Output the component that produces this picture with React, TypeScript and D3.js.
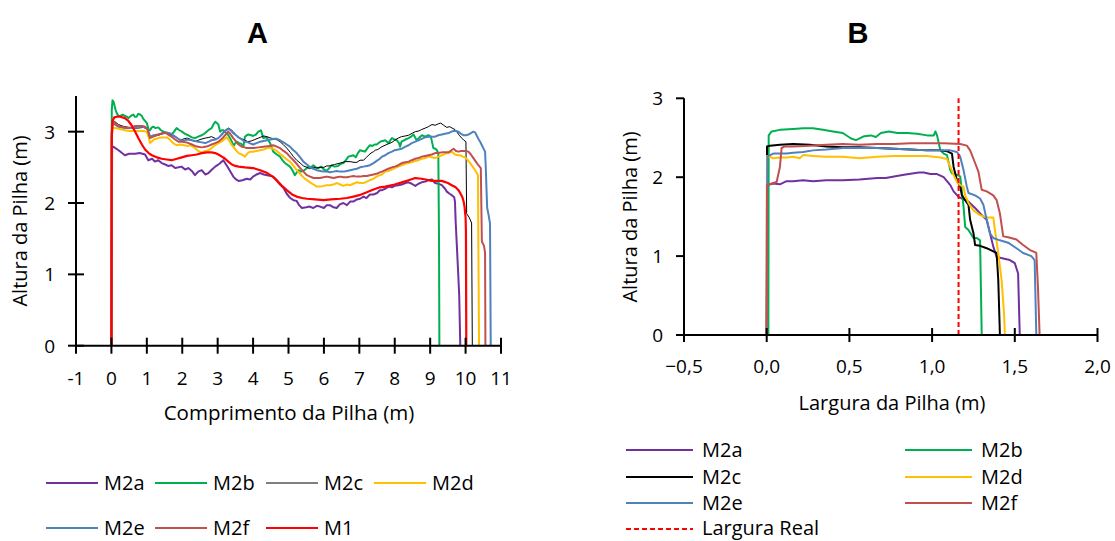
import React from "react";
import * as d3 from "d3";

type Pt = [number, number];

// ---------------- Panel A data (Comprimento da Pilha) ----------------
const seriesA = ["M2a", "M2b", "M2c", "M2d", "M2e", "M2f", "M1"];

const m2aA: Pt[] = [[0,0],[0.02,2.79],[0.05,2.79],[0.2,2.74],[0.3,2.70],[0.38,2.67],[0.5,2.69],[0.67,2.69],[0.8,2.70],[0.95,2.68],[1.04,2.60],[1.15,2.62],[1.23,2.58],[1.32,2.60],[1.42,2.56],[1.52,2.54],[1.6,2.52],[1.7,2.53],[1.8,2.49],[1.9,2.50],[1.98,2.51],[2.08,2.47],[2.17,2.49],[2.27,2.45],[2.36,2.39],[2.45,2.44],[2.55,2.46],[2.65,2.40],[2.74,2.42],[2.84,2.47],[2.93,2.51],[3.05,2.55],[3.16,2.60],[3.25,2.53],[3.3,2.49],[3.44,2.37],[3.52,2.33],[3.59,2.31],[3.7,2.32],[3.82,2.34],[3.92,2.33],[4.0,2.37],[4.1,2.40],[4.2,2.42],[4.3,2.40],[4.4,2.39],[4.5,2.38],[4.57,2.37],[4.67,2.31],[4.76,2.26],[4.86,2.21],[4.95,2.13],[5.05,2.07],[5.14,2.04],[5.23,2.03],[5.3,1.97],[5.38,1.93],[5.5,1.94],[5.6,1.95],[5.7,1.93],[5.8,1.96],[5.89,1.95],[6.0,1.93],[6.08,1.97],[6.17,1.97],[6.27,1.94],[6.36,1.93],[6.45,1.98],[6.55,2.0],[6.65,1.97],[6.74,2.02],[6.83,2.02],[6.93,2.05],[7.02,2.06],[7.12,2.09],[7.2,2.07],[7.3,2.12],[7.4,2.12],[7.5,2.14],[7.58,2.18],[7.64,2.18],[7.73,2.20],[7.83,2.23],[7.92,2.22],[8.0,2.24],[8.1,2.25],[8.2,2.26],[8.3,2.28],[8.39,2.29],[8.48,2.27],[8.58,2.24],[8.67,2.27],[8.76,2.29],[8.86,2.30],[8.95,2.32],[9.05,2.33],[9.14,2.28],[9.23,2.27],[9.33,2.25],[9.42,2.20],[9.47,2.16],[9.55,2.13],[9.61,2.11],[9.68,2.08],[9.7,2.02],[9.72,1.74],[9.78,1.13],[9.82,0.71],[9.85,0]];

const m2bA: Pt[] = [[0,0],[0.01,3.3],[0.03,3.44],[0.06,3.42],[0.08,3.38],[0.12,3.30],[0.15,3.26],[0.2,3.22],[0.25,3.22],[0.32,3.24],[0.38,3.22],[0.44,3.21],[0.48,3.19],[0.55,3.22],[0.62,3.24],[0.66,3.21],[0.71,3.21],[0.76,3.25],[0.81,3.24],[0.86,3.22],[0.9,3.18],[0.95,3.15],[1.0,3.12],[1.05,3.03],[1.09,3.02],[1.14,3.06],[1.18,3.07],[1.25,3.05],[1.32,3.06],[1.4,3.02],[1.47,3.0],[1.56,2.98],[1.63,2.97],[1.7,2.96],[1.77,3.0],[1.84,3.05],[1.92,3.02],[1.99,3.0],[2.08,2.97],[2.17,2.95],[2.27,2.92],[2.36,2.91],[2.45,2.93],[2.55,2.95],[2.62,2.97],[2.69,3.0],[2.76,3.03],[2.83,3.05],[2.88,3.10],[2.93,3.14],[2.98,3.12],[3.02,3.10],[3.07,3.0],[3.12,3.02],[3.16,3.02],[3.22,2.99],[3.26,2.98],[3.3,2.95],[3.35,2.91],[3.4,2.86],[3.45,2.80],[3.5,2.84],[3.54,2.86],[3.6,2.84],[3.66,2.83],[3.73,2.80],[3.77,2.93],[3.82,2.95],[3.87,2.96],[3.95,2.95],[4.0,2.94],[4.08,2.96],[4.15,3.0],[4.22,3.02],[4.29,2.91],[4.38,2.92],[4.48,2.84],[4.57,2.72],[4.67,2.68],[4.76,2.65],[4.83,2.60],[4.9,2.56],[5.04,2.51],[5.1,2.47],[5.18,2.39],[5.28,2.46],[5.35,2.44],[5.42,2.45],[5.5,2.48],[5.56,2.51],[5.63,2.50],[5.7,2.53],[5.77,2.50],[5.84,2.49],[5.92,2.51],[6.0,2.47],[6.08,2.45],[6.15,2.49],[6.22,2.53],[6.3,2.51],[6.4,2.52],[6.48,2.55],[6.55,2.56],[6.62,2.60],[6.69,2.65],[6.76,2.66],[6.83,2.67],[6.9,2.64],[6.96,2.70],[7.02,2.74],[7.09,2.73],[7.16,2.72],[7.23,2.77],[7.3,2.81],[7.37,2.80],[7.43,2.82],[7.49,2.82],[7.59,2.86],[7.66,2.87],[7.73,2.88],[7.82,2.84],[7.92,2.91],[8.0,2.89],[8.06,2.88],[8.12,2.84],[8.15,2.79],[8.19,2.86],[8.3,2.89],[8.39,2.91],[8.46,2.93],[8.53,2.96],[8.62,2.88],[8.7,2.92],[8.77,2.95],[8.86,2.93],[8.95,2.95],[9.02,2.93],[9.05,2.86],[9.09,2.77],[9.15,2.76],[9.19,2.74],[9.23,2.70],[9.25,1.5],[9.26,0]];

const m2cA: Pt[] = [[0,0],[0.01,3.0],[0.03,3.15],[0.1,3.14],[0.2,3.10],[0.3,3.08],[0.38,3.07],[0.5,3.06],[0.62,3.05],[0.76,3.05],[0.9,3.06],[1.0,3.04],[1.09,2.93],[1.2,2.94],[1.32,2.95],[1.45,2.97],[1.6,2.98],[1.7,2.95],[1.8,2.93],[1.94,2.88],[2.05,2.90],[2.13,2.91],[2.25,2.89],[2.36,2.86],[2.5,2.89],[2.65,2.91],[2.75,2.92],[2.83,2.93],[2.95,2.90],[3.02,2.91],[3.12,2.97],[3.21,3.02],[3.3,3.05],[3.37,3.03],[3.44,3.0],[3.52,2.95],[3.59,2.92],[3.68,2.90],[3.77,2.88],[3.85,2.86],[3.95,2.87],[4.05,2.89],[4.2,2.92],[4.3,2.94],[4.39,2.93],[4.5,2.91],[4.6,2.90],[4.7,2.88],[4.76,2.86],[4.85,2.82],[4.95,2.77],[5.05,2.71],[5.14,2.65],[5.23,2.60],[5.33,2.56],[5.42,2.52],[5.52,2.50],[5.6,2.48],[5.7,2.50],[5.8,2.49],[5.89,2.50],[6.0,2.50],[6.08,2.52],[6.17,2.52],[6.3,2.54],[6.46,2.56],[6.6,2.58],[6.74,2.58],[6.85,2.57],[6.93,2.57],[7.02,2.60],[7.12,2.60],[7.2,2.64],[7.26,2.67],[7.33,2.70],[7.4,2.72],[7.45,2.74],[7.52,2.75],[7.58,2.77],[7.64,2.79],[7.73,2.81],[7.82,2.83],[7.92,2.85],[8.0,2.88],[8.1,2.91],[8.19,2.93],[8.3,2.94],[8.39,2.95],[8.5,2.98],[8.58,3.0],[8.68,3.01],[8.76,3.03],[8.86,3.05],[8.95,3.07],[9.05,3.10],[9.14,3.09],[9.23,3.11],[9.3,3.12],[9.38,3.09],[9.47,3.06],[9.55,3.07],[9.62,3.05],[9.7,3.03],[9.75,3.0],[9.82,2.95],[9.89,2.91],[9.95,2.88],[10.01,2.86],[10.03,1.85],[10.1,1.80],[10.17,1.72],[10.19,0]];

const m2dA: Pt[] = [[0,0],[0.01,2.95],[0.04,3.05],[0.1,3.05],[0.2,3.04],[0.3,3.03],[0.38,3.02],[0.5,3.01],[0.6,3.01],[0.76,3.01],[0.9,3.01],[1.0,3.0],[1.05,2.92],[1.09,2.84],[1.2,2.89],[1.32,2.91],[1.45,2.92],[1.56,2.92],[1.63,2.90],[1.7,2.86],[1.77,2.83],[1.84,2.81],[1.95,2.82],[2.05,2.81],[2.15,2.80],[2.22,2.81],[2.3,2.79],[2.36,2.77],[2.45,2.73],[2.55,2.71],[2.65,2.73],[2.74,2.74],[2.83,2.77],[2.93,2.81],[3.02,2.84],[3.11,2.86],[3.2,2.90],[3.26,2.92],[3.33,2.87],[3.4,2.81],[3.5,2.75],[3.59,2.70],[3.68,2.68],[3.77,2.65],[3.85,2.70],[3.92,2.72],[4.0,2.72],[4.1,2.73],[4.2,2.74],[4.3,2.75],[4.4,2.77],[4.48,2.77],[4.57,2.76],[4.67,2.73],[4.76,2.69],[4.86,2.65],[4.95,2.61],[5.04,2.58],[5.14,2.52],[5.23,2.46],[5.33,2.41],[5.42,2.36],[5.52,2.32],[5.61,2.29],[5.7,2.26],[5.8,2.23],[5.9,2.23],[5.99,2.24],[6.08,2.25],[6.17,2.25],[6.27,2.26],[6.36,2.28],[6.46,2.26],[6.55,2.24],[6.65,2.26],[6.74,2.25],[6.83,2.27],[6.93,2.29],[7.02,2.28],[7.12,2.28],[7.21,2.30],[7.3,2.32],[7.4,2.34],[7.49,2.37],[7.58,2.39],[7.64,2.40],[7.73,2.44],[7.82,2.45],[7.92,2.47],[8.0,2.49],[8.1,2.51],[8.2,2.53],[8.3,2.55],[8.39,2.56],[8.48,2.57],[8.58,2.59],[8.67,2.60],[8.76,2.62],[8.86,2.63],[8.95,2.65],[9.05,2.64],[9.14,2.63],[9.23,2.65],[9.33,2.67],[9.42,2.69],[9.52,2.70],[9.61,2.72],[9.7,2.68],[9.78,2.67],[9.85,2.67],[9.92,2.65],[9.99,2.64],[10.06,2.60],[10.13,2.56],[10.2,2.51],[10.27,2.46],[10.33,2.41],[10.35,2.39],[10.36,1.5],[10.38,0]];

const m2eA: Pt[] = [[0,0],[0.01,3.0],[0.04,3.12],[0.1,3.10],[0.2,3.07],[0.3,3.06],[0.38,3.05],[0.5,3.05],[0.62,3.06],[0.75,3.07],[0.86,3.07],[0.95,3.06],[1.02,3.04],[1.09,2.93],[1.2,2.95],[1.32,2.96],[1.45,2.98],[1.56,2.99],[1.68,2.97],[1.8,2.93],[1.92,2.89],[2.03,2.87],[2.15,2.89],[2.27,2.88],[2.36,2.87],[2.45,2.86],[2.55,2.85],[2.65,2.84],[2.75,2.86],[2.83,2.88],[2.93,2.89],[3.02,2.91],[3.12,2.96],[3.21,3.01],[3.3,3.04],[3.37,3.02],[3.44,2.98],[3.52,2.95],[3.59,2.92],[3.68,2.89],[3.77,2.86],[3.82,2.86],[3.9,2.84],[4.0,2.82],[4.1,2.84],[4.2,2.86],[4.3,2.87],[4.39,2.88],[4.5,2.89],[4.6,2.90],[4.67,2.90],[4.76,2.88],[4.86,2.85],[4.95,2.82],[5.04,2.79],[5.14,2.74],[5.23,2.70],[5.33,2.64],[5.42,2.58],[5.52,2.54],[5.61,2.50],[5.7,2.48],[5.8,2.46],[5.9,2.45],[5.99,2.44],[6.08,2.44],[6.17,2.43],[6.27,2.44],[6.36,2.45],[6.46,2.44],[6.55,2.44],[6.65,2.45],[6.74,2.46],[6.83,2.47],[6.93,2.48],[7.02,2.50],[7.12,2.51],[7.21,2.52],[7.3,2.53],[7.4,2.56],[7.49,2.59],[7.58,2.62],[7.64,2.65],[7.73,2.67],[7.82,2.70],[7.92,2.72],[8.0,2.74],[8.1,2.75],[8.19,2.76],[8.3,2.79],[8.39,2.81],[8.48,2.84],[8.58,2.86],[8.67,2.88],[8.76,2.90],[8.86,2.92],[8.95,2.93],[9.05,2.93],[9.14,2.93],[9.23,2.95],[9.33,2.96],[9.42,2.97],[9.52,2.98],[9.6,3.0],[9.66,3.01],[9.73,3.01],[9.8,3.0],[9.87,2.97],[9.94,2.95],[10.01,2.95],[10.08,2.96],[10.15,2.98],[10.22,3.0],[10.27,2.99],[10.31,2.95],[10.36,2.90],[10.41,2.86],[10.46,2.81],[10.5,2.77],[10.55,2.72],[10.57,2.50],[10.59,2.20],[10.61,1.93],[10.65,1.83],[10.69,1.71],[10.71,0]];

const m2fA: Pt[] = [[0,0],[0.01,3.0],[0.04,3.16],[0.1,3.12],[0.15,3.09],[0.25,3.07],[0.38,3.06],[0.48,3.05],[0.58,3.06],[0.67,3.08],[0.77,3.08],[0.86,3.08],[0.95,3.07],[1.02,3.03],[1.09,2.91],[1.18,2.93],[1.28,2.95],[1.4,2.97],[1.51,2.99],[1.6,2.96],[1.7,2.93],[1.8,2.89],[1.89,2.86],[2.0,2.86],[2.1,2.85],[2.18,2.84],[2.27,2.82],[2.36,2.80],[2.45,2.79],[2.55,2.78],[2.65,2.79],[2.74,2.80],[2.83,2.82],[2.93,2.84],[3.02,2.86],[3.12,2.90],[3.21,2.95],[3.3,3.0],[3.37,2.96],[3.44,2.91],[3.52,2.86],[3.59,2.82],[3.68,2.79],[3.77,2.78],[3.82,2.77],[3.9,2.77],[4.0,2.77],[4.15,2.78],[4.3,2.79],[4.45,2.80],[4.57,2.81],[4.67,2.79],[4.76,2.77],[4.86,2.73],[4.95,2.70],[5.04,2.65],[5.14,2.60],[5.23,2.55],[5.33,2.49],[5.42,2.44],[5.52,2.39],[5.61,2.37],[5.71,2.35],[5.8,2.35],[5.89,2.35],[5.99,2.36],[6.08,2.37],[6.17,2.36],[6.27,2.35],[6.36,2.36],[6.46,2.37],[6.55,2.36],[6.65,2.36],[6.74,2.37],[6.83,2.38],[6.93,2.37],[7.02,2.37],[7.12,2.38],[7.21,2.38],[7.3,2.39],[7.4,2.40],[7.49,2.41],[7.58,2.43],[7.64,2.44],[7.73,2.46],[7.82,2.48],[7.92,2.50],[8.0,2.51],[8.1,2.53],[8.2,2.56],[8.3,2.57],[8.39,2.58],[8.48,2.60],[8.58,2.62],[8.67,2.63],[8.76,2.65],[8.86,2.66],[8.95,2.67],[9.05,2.68],[9.14,2.70],[9.23,2.70],[9.33,2.71],[9.42,2.71],[9.52,2.71],[9.6,2.74],[9.66,2.76],[9.73,2.73],[9.8,2.72],[9.87,2.73],[9.94,2.73],[10.01,2.73],[10.08,2.72],[10.15,2.68],[10.22,2.63],[10.29,2.58],[10.36,2.53],[10.43,2.49],[10.46,1.46],[10.52,1.40],[10.55,1.30],[10.56,0]];

const m1A: Pt[] = [[0,0],[0.01,2.9],[0.03,3.15],[0.08,3.2],[0.15,3.21],[0.25,3.21],[0.38,3.19],[0.48,3.15],[0.57,3.09],[0.67,3.0],[0.76,2.91],[0.86,2.82],[0.95,2.75],[1.05,2.70],[1.14,2.67],[1.28,2.64],[1.42,2.62],[1.56,2.61],[1.7,2.60],[1.85,2.62],[1.99,2.64],[2.13,2.66],[2.27,2.67],[2.41,2.68],[2.55,2.70],[2.69,2.71],[2.83,2.71],[2.93,2.70],[3.02,2.68],[3.12,2.65],[3.21,2.62],[3.3,2.58],[3.4,2.54],[3.5,2.52],[3.59,2.51],[3.77,2.50],[4.0,2.49],[4.2,2.46],[4.4,2.42],[4.55,2.37],[4.67,2.32],[4.8,2.25],[4.95,2.18],[5.1,2.12],[5.23,2.09],[5.38,2.07],[5.52,2.06],[5.75,2.05],[5.99,2.04],[6.2,2.05],[6.46,2.06],[6.65,2.07],[6.83,2.09],[7.0,2.11],[7.21,2.15],[7.4,2.19],[7.58,2.22],[7.73,2.23],[8.0,2.26],[8.2,2.29],[8.39,2.32],[8.58,2.35],[8.76,2.34],[9.05,2.31],[9.33,2.31],[9.5,2.28],[9.61,2.25],[9.72,2.22],[9.8,2.18],[9.87,2.12],[9.91,2.08],[9.95,2.01],[9.97,1.95],[10.0,1.8],[10.01,1.6],[10.02,0]];

const xTicksA = [-1, 0, 1, 2, 3, 4, 5, 6, 7, 8, 9, 10, 11];
const yTicksA = [0, 1, 2, 3];

// ---------------- Panel B data (Largura da Pilha) ----------------
const seriesB = ["M2a", "M2b", "M2c", "M2d", "M2e", "M2f"];

const m2aB: Pt[] = [[0,0],[0.005,1.9],[0.04,1.92],[0.08,1.91],[0.12,1.95],[0.16,1.95],[0.22,1.96],[0.28,1.95],[0.36,1.96],[0.46,1.96],[0.56,1.97],[0.67,1.99],[0.72,1.99],[0.77,2.01],[0.83,2.03],[0.89,2.05],[0.92,2.06],[0.95,2.06],[0.99,2.04],[1.03,2.04],[1.05,2.02],[1.07,2.0],[1.09,1.95],[1.11,1.90],[1.13,1.82],[1.16,1.75],[1.19,1.72],[1.22,1.69],[1.26,1.61],[1.30,1.52],[1.33,1.46],[1.35,1.29],[1.37,1.12],[1.39,0.99],[1.43,0.97],[1.47,0.95],[1.50,0.91],[1.52,0.78],[1.53,0]];

const m2bB: Pt[] = [[0.01,0],[0.012,2.53],[0.03,2.58],[0.08,2.60],[0.16,2.61],[0.22,2.62],[0.28,2.62],[0.34,2.60],[0.4,2.58],[0.46,2.56],[0.51,2.49],[0.54,2.47],[0.59,2.52],[0.63,2.53],[0.66,2.51],[0.69,2.56],[0.74,2.58],[0.79,2.56],[0.85,2.56],[0.91,2.55],[0.97,2.53],[1.01,2.53],[1.02,2.58],[1.03,2.53],[1.05,2.34],[1.07,2.30],[1.09,2.28],[1.11,2.09],[1.12,2.05],[1.15,2.03],[1.17,2.01],[1.19,1.63],[1.2,1.37],[1.22,1.33],[1.25,1.23],[1.27,1.23],[1.29,1.20],[1.30,0]];

const m2cB: Pt[] = [[0,0],[0.002,2.39],[0.02,2.40],[0.08,2.41],[0.16,2.42],[0.26,2.41],[0.36,2.39],[0.46,2.38],[0.56,2.38],[0.67,2.37],[0.77,2.36],[0.87,2.35],[0.97,2.34],[1.05,2.34],[1.09,2.33],[1.12,2.30],[1.13,2.13],[1.15,1.96],[1.17,1.88],[1.18,1.77],[1.2,1.71],[1.22,1.65],[1.23,1.46],[1.25,1.29],[1.26,1.14],[1.29,1.13],[1.33,1.10],[1.37,1.06],[1.39,1.04],[1.40,0.70],[1.41,0]];

const m2dB: Pt[] = [[0,0],[0.002,2.27],[0.04,2.24],[0.08,2.25],[0.12,2.25],[0.16,2.26],[0.2,2.24],[0.22,2.28],[0.28,2.27],[0.36,2.26],[0.46,2.26],[0.56,2.24],[0.67,2.26],[0.77,2.27],[0.87,2.27],[0.97,2.27],[1.05,2.25],[1.09,2.23],[1.11,2.13],[1.13,2.03],[1.15,1.94],[1.17,1.90],[1.19,1.88],[1.2,1.77],[1.22,1.67],[1.25,1.58],[1.29,1.52],[1.33,1.49],[1.37,1.49],[1.38,1.33],[1.40,1.04],[1.42,0.70],[1.435,0.27],[1.44,0]];

const m2eB: Pt[] = [[0,0],[0.004,2.26],[0.02,2.28],[0.04,2.30],[0.08,2.30],[0.12,2.30],[0.16,2.31],[0.22,2.32],[0.28,2.34],[0.36,2.35],[0.46,2.37],[0.56,2.37],[0.67,2.37],[0.77,2.36],[0.87,2.35],[0.97,2.34],[1.05,2.34],[1.11,2.34],[1.15,2.32],[1.17,2.26],[1.19,2.09],[1.21,1.88],[1.22,1.80],[1.26,1.77],[1.29,1.73],[1.31,1.65],[1.33,1.46],[1.35,1.29],[1.37,1.23],[1.41,1.20],[1.46,1.17],[1.51,1.10],[1.55,1.04],[1.60,1.00],[1.62,0.95],[1.63,0]];

const m2fB: Pt[] = [[0,0],[0.002,1.90],[0.03,1.92],[0.06,1.94],[0.08,2.13],[0.09,2.37],[0.11,2.39],[0.16,2.39],[0.26,2.40],[0.36,2.41],[0.46,2.42],[0.56,2.41],[0.67,2.42],[0.77,2.42],[0.87,2.43],[0.97,2.43],[1.07,2.43],[1.17,2.42],[1.21,2.40],[1.23,2.34],[1.26,2.18],[1.28,2.07],[1.30,1.84],[1.33,1.82],[1.37,1.77],[1.39,1.71],[1.41,1.54],[1.43,1.25],[1.46,1.24],[1.51,1.21],[1.55,1.14],[1.59,1.08],[1.63,1.04],[1.64,0.61],[1.65,0]];

const larguraReal = 1.16;
const xTicksB = [-0.5, 0, 0.5, 1, 1.5, 2];
const yTicksB = [0, 1, 2, 3];

// ---------------- styles ----------------
const COLORS: Record<string, string> = {
  M2a: "#7030A0",
  M2b: "#00B050",
  M2c: "#000000",
  M2d: "#FFC000",
  M2e: "#4F81BD",
  M2f: "#C0504D",
  M1: "#FF0000",
};

const dataA: Record<string, Pt[]> = { M2a: m2aA, M2b: m2bA, M2c: m2cA, M2d: m2dA, M2e: m2eA, M2f: m2fA, M1: m1A };
const dataB: Record<string, Pt[]> = { M2a: m2aB, M2b: m2bB, M2c: m2cB, M2d: m2dB, M2e: m2eB, M2f: m2fB };

const FONT = "'Open Sans', 'Liberation Sans', sans-serif";

export default function App() {
  // Panel A scales
  const xA = d3.scaleLinear().domain([-1, 11]).range([76, 501]);
  const yA = d3.scaleLinear().domain([0, 3.5]).range([345.7, 96]);
  const lineA = d3.line<Pt>().x((d) => xA(d[0])).y((d) => yA(d[1]));

  // Panel B scales
  const xB = d3.scaleLinear().domain([-0.5, 2.0]).range([684, 1097.5]);
  const yB = d3.scaleLinear().domain([0, 3]).range([335, 98.3]);
  const lineB = d3.line<Pt>().x((d) => xB(d[0])).y((d) => yB(d[1]));

  const fmtB = (v: number) => d3.format(".1f")(v).replace(".", ",");

  const legendA = [
    { name: "M2a", x: 46, y: 483 },
    { name: "M2b", x: 155, y: 483 },
    { name: "M2c", x: 266, y: 483 },
    { name: "M2d", x: 374, y: 483 },
    { name: "M2e", x: 46, y: 528 },
    { name: "M2f", x: 155, y: 528 },
    { name: "M1", x: 266, y: 528 },
  ];
  const legendB = [
    { name: "M2a", x: 626, y: 450 },
    { name: "M2b", x: 905, y: 450 },
    { name: "M2c", x: 626, y: 477 },
    { name: "M2d", x: 905, y: 477 },
    { name: "M2e", x: 626, y: 503 },
    { name: "M2f", x: 905, y: 503 },
  ];

  return (
    <svg
      width={1115}
      height={541}
      style={{ position: "absolute", left: 0, top: 0, background: "#fff" }}
      fontFamily={FONT}
    >
      <rect x={0} y={0} width={1115} height={541} fill="#fff" />

      {/* ---------- Panel A ---------- */}
      <text x={257.5} y={43} textAnchor="middle" fontFamily="'Liberation Sans', Arial, sans-serif" fontWeight="bold" fontSize={29}>A</text>

      {seriesA.map((s) => (
        <path
          key={"A" + s}
          d={lineA(dataA[s]) || ""}
          fill="none"
          stroke={COLORS[s]}
          strokeWidth={s === "M2c" ? 1 : s === "M1" ? 2.2 : 2}
          strokeLinejoin="round"
        />
      ))}

      {/* axes A */}
      <line x1={xA(-1)} x2={xA(-1)} y1={yA(3.5)} y2={yA(0)} stroke="#000" strokeWidth={2} />
      <line x1={xA(-1)} x2={xA(11)} y1={yA(0)} y2={yA(0)} stroke="#000" strokeWidth={2} />
      {yTicksA.map((t) => (
        <g key={"yta" + t}>
          <line x1={xA(-1) - 8} x2={xA(-1) + 8} y1={yA(t)} y2={yA(t)} stroke="#000" strokeWidth={2} />
          <text x={55} y={yA(t) + 7} textAnchor="end" fontSize={19}>{t}</text>
        </g>
      ))}
      {xTicksA.map((t) => (
        <g key={"xta" + t}>
          <line x1={xA(t)} x2={xA(t)} y1={yA(0) - 8} y2={yA(0) + 8} stroke="#000" strokeWidth={2} />
          <text x={xA(t)} y={385} textAnchor="middle" fontSize={19}>{t}</text>
        </g>
      ))}
      <text x={289} y={420} textAnchor="middle" fontSize={20.5}>Comprimento da Pilha (m)</text>
      <text transform="translate(27,221) rotate(-90)" textAnchor="middle" fontSize={20}>Altura da Pilha (m)</text>

      {/* legend A */}
      {legendA.map((l) => (
        <g key={"la" + l.name}>
          <line x1={l.x} x2={l.x + 52} y1={l.y} y2={l.y} stroke={COLORS[l.name]} strokeWidth={l.name === "M2c" ? 1 : 2} />
          <text x={l.x + 58} y={l.y + 7} fontSize={20}>{l.name}</text>
        </g>
      ))}

      {/* ---------- Panel B ---------- */}
      <text x={858} y={43} textAnchor="middle" fontFamily="'Liberation Sans', Arial, sans-serif" fontWeight="bold" fontSize={29}>B</text>

      {seriesB.map((s) => (
        <path
          key={"B" + s}
          d={lineB(dataB[s]) || ""}
          fill="none"
          stroke={COLORS[s]}
          strokeWidth={2}
          strokeLinejoin="round"
        />
      ))}
      <line
        x1={xB(larguraReal)}
        x2={xB(larguraReal)}
        y1={yB(0)}
        y2={yB(3)}
        stroke="#FF0000"
        strokeWidth={2}
        strokeDasharray="5,3"
      />

      {/* axes B */}
      <line x1={xB(-0.5)} x2={xB(-0.5)} y1={yB(3)} y2={yB(0)} stroke="#000" strokeWidth={2} />
      <line x1={xB(-0.5)} x2={xB(2)} y1={yB(0)} y2={yB(0)} stroke="#000" strokeWidth={2} />
      {yTicksB.map((t) => (
        <g key={"ytb" + t}>
          <line x1={xB(-0.5) - 8} x2={xB(-0.5)} y1={yB(t)} y2={yB(t)} stroke="#000" strokeWidth={2} />
          <text x={663} y={yB(t) + 7} textAnchor="end" fontSize={19}>{t}</text>
        </g>
      ))}
      {xTicksB.map((t) => (
        <g key={"xtb" + t}>
          <line x1={xB(t)} x2={xB(t)} y1={yB(0) - 7} y2={yB(0) + 7} stroke="#000" strokeWidth={2} />
          <text x={xB(t)} y={373} textAnchor="middle" fontSize={19}>{fmtB(t)}</text>
        </g>
      ))}
      <text x={892} y={410} textAnchor="middle" fontSize={20}>Largura da Pilha (m)</text>
      <text transform="translate(637,217) rotate(-90)" textAnchor="middle" fontSize={20}>Altura da Pilha (m)</text>

      {/* legend B */}
      {legendB.map((l) => (
        <g key={"lb" + l.name}>
          <line x1={l.x} x2={l.x + 67} y1={l.y} y2={l.y} stroke={COLORS[l.name]} strokeWidth={2} />
          <text x={l.x + 76} y={l.y + 7} fontSize={20}>{l.name}</text>
        </g>
      ))}
      <g>
        <line x1={626} x2={693} y1={529} y2={529} stroke="#FF0000" strokeWidth={2} strokeDasharray="5,3" />
        <text x={702} y={535} fontSize={20}>Largura Real</text>
      </g>
    </svg>
  );
}
